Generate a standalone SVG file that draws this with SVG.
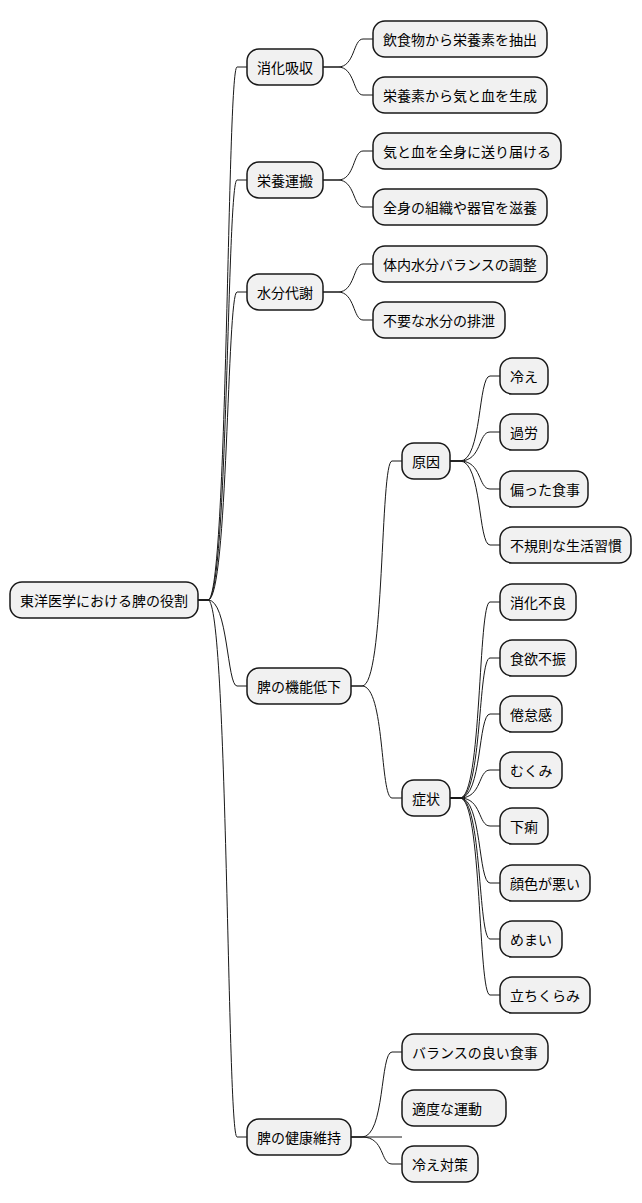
<svg xmlns="http://www.w3.org/2000/svg" width="642" height="1203" viewBox="0 0 642 1203">
<style>
rect{fill:#F1F1F1;stroke:#181818;stroke-width:1.5}
text{font-family:"Noto Sans CJK JP","Noto Sans",sans-serif;font-size:14px;fill:#000;dominant-baseline:central}
#c path{fill:none;stroke:#181818;stroke-width:1}
</style>
<rect width="642" height="1203" style="fill:#fff;stroke:none"/>
<g id="c">
<path d="M198,600 H208 C228,600 227,67 237,67 H247"/>
<path d="M198,600 H208 C228,600 227,180 237,180 H247"/>
<path d="M198,600 H208 C228,600 227,292 237,292 H247"/>
<path d="M198,600 H208 C228,600 227,686 237,686 H247"/>
<path d="M198,600 H208 C228,600 227,1137 237,1137 H247"/>
<path d="M323,67 H338 C355,67 353,39 363,39 H373"/>
<path d="M323,67 H338 C355,67 353,95 363,95 H373"/>
<path d="M323,180 H338 C355,180 353,151 363,151 H373"/>
<path d="M323,180 H338 C355,180 353,207 363,207 H373"/>
<path d="M323,292 H338 C355,292 353,264 363,264 H373"/>
<path d="M323,292 H338 C355,292 353,320 363,320 H373"/>
<path d="M351,686 H362 C385,686 380,461 392,461 H402"/>
<path d="M351,686 H362 C385,686 380,798 392,798 H402"/>
<path d="M351,1137 H362 C385,1137 380,1052 392,1052 H402"/>
<path d="M351,1137 H402"/>
<path d="M351,1137 H362 C385,1137 380,1164 392,1164 H402"/>
<path d="M450,461 H460 C482,461 478,376 490,376 H500"/>
<path d="M450,461 H460 C482,461 478,432 490,432 H500"/>
<path d="M450,461 H460 C482,461 478,489 490,489 H500"/>
<path d="M450,461 H460 C482,461 478,545 490,545 H500"/>
<path d="M450,798 H460 C482,798 478,602 490,602 H500"/>
<path d="M450,798 H460 C482,798 478,658 490,658 H500"/>
<path d="M450,798 H460 C482,798 478,714 490,714 H500"/>
<path d="M450,798 H460 C482,798 478,770 490,770 H500"/>
<path d="M450,798 H460 C482,798 478,826 490,826 H500"/>
<path d="M450,798 H460 C482,798 478,883 490,883 H500"/>
<path d="M450,798 H460 C482,798 478,939 490,939 H500"/>
<path d="M450,798 H460 C482,798 478,995 490,995 H500"/>
</g>
<g id="root"><rect x="10" y="582" width="188" height="36" rx="12"/><text x="20" y="600">東洋医学における脾の役割</text></g>
<g id="n1"><rect x="247" y="49" width="76" height="36" rx="12"/><text x="257" y="67">消化吸収</text></g>
<g id="n2"><rect x="247" y="162" width="76" height="36" rx="12"/><text x="257" y="180">栄養運搬</text></g>
<g id="n3"><rect x="247" y="274" width="76" height="36" rx="12"/><text x="257" y="292">水分代謝</text></g>
<g id="n4"><rect x="247" y="668" width="104" height="36" rx="12"/><text x="257" y="686">脾の機能低下</text></g>
<g id="n5"><rect x="247" y="1119" width="104" height="36" rx="12"/><text x="257" y="1137">脾の健康維持</text></g>
<g id="n11"><rect x="373" y="21" width="174" height="36" rx="12"/><text x="383" y="39">飲食物から栄養素を抽出</text></g>
<g id="n12"><rect x="373" y="77" width="174" height="36" rx="12"/><text x="383" y="95">栄養素から気と血を生成</text></g>
<g id="n21"><rect x="373" y="133" width="188" height="36" rx="12"/><text x="383" y="151">気と血を全身に送り届ける</text></g>
<g id="n22"><rect x="373" y="189" width="174" height="36" rx="12"/><text x="383" y="207">全身の組織や器官を滋養</text></g>
<g id="n31"><rect x="373" y="246" width="174" height="36" rx="12"/><text x="383" y="264">体内水分バランスの調整</text></g>
<g id="n32"><rect x="373" y="302" width="132" height="36" rx="12"/><text x="383" y="320">不要な水分の排泄</text></g>
<g id="n41"><rect x="402" y="443" width="48" height="36" rx="12"/><text x="412" y="461">原因</text></g>
<g id="n42"><rect x="402" y="780" width="48" height="36" rx="12"/><text x="412" y="798">症状</text></g>
<g id="a1"><rect x="500" y="358" width="48" height="36" rx="12"/><text x="510" y="376">冷え</text></g>
<g id="a2"><rect x="500" y="414" width="48" height="36" rx="12"/><text x="510" y="432">過労</text></g>
<g id="a3"><rect x="500" y="471" width="88" height="36" rx="12"/><text x="510" y="489">偏った食事</text></g>
<g id="a4"><rect x="500" y="527" width="131" height="36" rx="12"/><text x="510" y="545">不規則な生活習慣</text></g>
<g id="s1"><rect x="500" y="584" width="76" height="36" rx="12"/><text x="510" y="602">消化不良</text></g>
<g id="s2"><rect x="500" y="640" width="76" height="36" rx="12"/><text x="510" y="658">食欲不振</text></g>
<g id="s3"><rect x="500" y="696" width="62" height="36" rx="12"/><text x="510" y="714">倦怠感</text></g>
<g id="s4"><rect x="500" y="752" width="62" height="36" rx="12"/><text x="510" y="770">むくみ</text></g>
<g id="s5"><rect x="500" y="808" width="48" height="36" rx="12"/><text x="510" y="826">下痢</text></g>
<g id="s6"><rect x="500" y="865" width="90" height="36" rx="12"/><text x="510" y="883">顔色が悪い</text></g>
<g id="s7"><rect x="500" y="921" width="62" height="36" rx="12"/><text x="510" y="939">めまい</text></g>
<g id="s8"><rect x="500" y="977" width="90" height="36" rx="12"/><text x="510" y="995">立ちくらみ</text></g>
<g id="h1"><rect x="402" y="1034" width="146" height="36" rx="12"/><text x="412" y="1052">バランスの良い食事</text></g>
<g id="h2"><rect x="402" y="1090" width="104" height="36" rx="12"/><text x="412" y="1108">適度な運動</text></g>
<g id="h3"><rect x="402" y="1146" width="76" height="36" rx="12"/><text x="412" y="1164">冷え対策</text></g>
</svg>
